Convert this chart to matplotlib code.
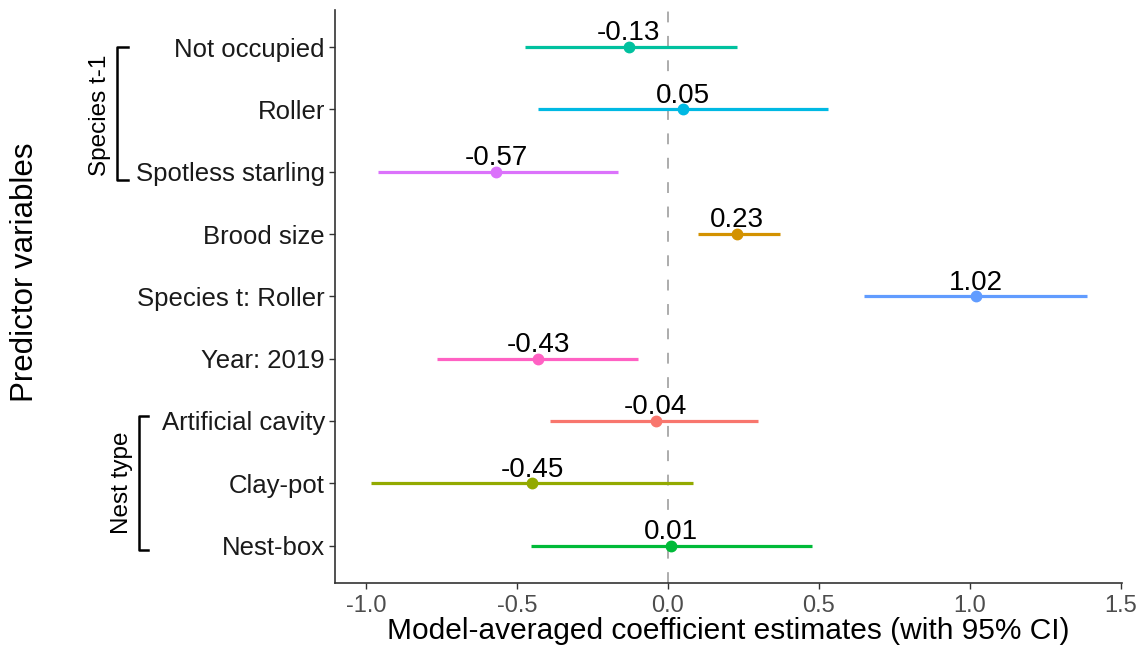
import matplotlib
matplotlib.use("Agg")
import matplotlib.pyplot as plt
from matplotlib.lines import Line2D

plt.rcParams['font.family'] = ['Liberation Sans', 'DejaVu Sans']

predictors = ["Not occupied", "Roller", "Spotless starling", "Brood size",
              "Species t: Roller", "Year: 2019", "Artificial cavity",
              "Clay-pot", "Nest-box"]
estimates = [-0.13, 0.05, -0.57, 0.23, 1.02, -0.43, -0.04, -0.45, 0.01]
ci_low = [-0.475, -0.43, -0.96, 0.10, 0.65, -0.765, -0.39, -0.985, -0.455]
ci_high = [0.23, 0.53, -0.165, 0.37, 1.39, -0.10, 0.30, 0.083, 0.476]
colors = ["#00C19F", "#00B9E3", "#DB72FB", "#D39200", "#619CFF",
          "#FF61C3", "#F8766D", "#93AA00", "#00BA38"]
xticks = [-1.0, -0.5, 0.0, 0.5, 1.0, 1.5]

fig = plt.figure(figsize=(11.36, 6.49), dpi=100)
ax = fig.add_axes([0.2945, 0.1017, 0.6935, 0.8833])

n = len(predictors)
ypos = list(range(n - 1, -1, -1))

ax.axvline(0, color="#a6a6a6", lw=1.3, ls=(0, (6, 7.5)), zorder=1)
for y, est, lo, hi, c in zip(ypos, estimates, ci_low, ci_high, colors):
    ax.plot([lo, hi], [y, y], color=c, lw=2.3, solid_capstyle="butt", zorder=2)
    ax.plot(est, y, "o", color=c, ms=7.5, zorder=3)
    ax.annotate(f"{est:.2f}", (est, y), xytext=(0, 0.5), textcoords="offset points",
                ha="center", va="bottom", fontsize=20, color="black", zorder=4)

ax.set_xlim(-1.105, 1.506)
ax.set_ylim(-0.6, n - 1 + 0.6)
ax.set_yticks(ypos)
ax.set_yticklabels(predictors, fontsize=18.5, color="#1a1a1a")
ax.set_xticks(xticks)
ax.set_xticklabels([f"{t:.1f}" for t in xticks], fontsize=17, color="#4d4d4d")
ax.tick_params(axis="both", direction="out", length=4, width=1, color="#333333")
ax.tick_params(axis="x", pad=5)
ax.tick_params(axis="y", pad=3)
for s in ["top", "right"]:
    ax.spines[s].set_visible(False)
for s in ["left", "bottom"]:
    ax.spines[s].set_color("#333333")
    ax.spines[s].set_linewidth(1.2)

ax.set_xlabel("Model-averaged coefficient estimates (with 95% CI)", fontsize=21.5, labelpad=0)
fig.text(25 / 1136, 1 - 272 / 649, "Predictor variables", rotation=90,
         ha="center", va="center", fontsize=22.5)

# group brackets (figure pixel coordinates)
def px(x, y):
    return x / 1136, 1 - y / 649

def bracket(x_line, x_tick, y_top, y_bot, label, x_text, y_text):
    pts = [px(x_tick, y_top), px(x_line, y_top), px(x_line, y_bot), px(x_tick, y_bot)]
    xs = [p[0] for p in pts]
    ys = [p[1] for p in pts]
    fig.add_artist(Line2D(xs, ys, color="black", lw=1.8, transform=fig.transFigure))
    tx, ty = px(x_text, y_text)
    fig.text(tx, ty, label, rotation=90, ha="center", va="center", fontsize=17.5)

bracket(117, 128, 47, 180, "Species t-1", 100, 115)
bracket(139, 148, 416, 550, "Nest type", 122, 483)

fig.savefig("out.png", dpi=100)
